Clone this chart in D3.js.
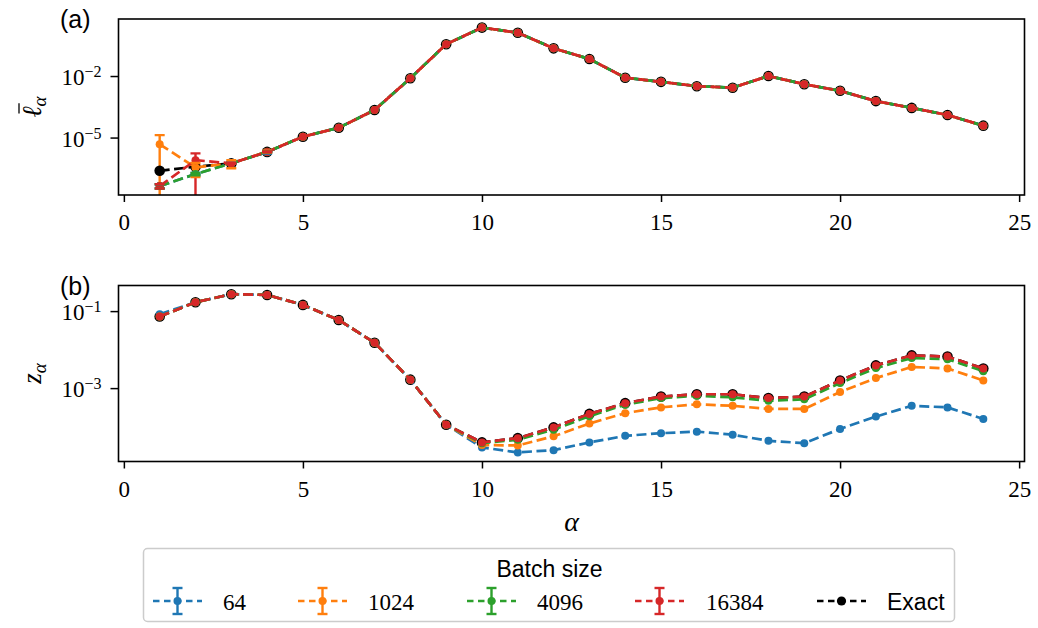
<!DOCTYPE html>
<html><head><meta charset="utf-8">
<script src="https://cdn.jsdelivr.net/npm/d3@7"></script>
<style>body{margin:0;background:#fff}</style>
</head><body>
<svg id="c" width="1038" height="628" xmlns="http://www.w3.org/2000/svg"></svg>
<script>
// ---------- DATA ----------
const alphas = [1,2,3,4,5,6,7,8,9,10,11,12,13,14,15,16,17,18,19,20,21,22,23,24];
const batchSizes = ["64","1024","4096","16384"];
const seriesColors = ["#1f77b4","#ff7f0e","#2ca02c","#d62728"];

// panel (a): mean loss
const lossExact = [2.4e-7,3.8e-7,5.5e-7,2.0e-6,1.1e-5,3.0e-5,2.2e-4,7.8e-3,0.355,2.3,1.29,0.224,0.068,8.3e-3,5.2e-3,3.2e-3,2.7e-3,1.0e-2,4.0e-3,1.9e-3,6.0e-4,2.8e-4,1.26e-4,3.8e-5];
const loss64    = [4.3e-8,1.66e-7,5.6e-7,1.95e-6,1.1e-5,3.0e-5,2.2e-4,7.8e-3,0.355,2.3,1.29,0.224,0.068,8.3e-3,5.2e-3,3.2e-3,2.7e-3,1.0e-2,4.0e-3,1.9e-3,6.0e-4,2.8e-4,1.26e-4,3.8e-5];
const loss1024  = [4.7e-6,3.5e-7,5.5e-7,2.05e-6,1.1e-5,3.0e-5,2.2e-4,7.8e-3,0.355,2.3,1.29,0.224,0.068,8.3e-3,5.2e-3,3.2e-3,2.7e-3,1.0e-2,4.0e-3,1.9e-3,6.0e-4,2.8e-4,1.26e-4,3.8e-5];
const loss4096  = [4.3e-8,1.66e-7,5.5e-7,2.0e-6,1.1e-5,3.0e-5,2.2e-4,7.8e-3,0.355,2.3,1.29,0.224,0.068,8.3e-3,5.2e-3,3.2e-3,2.7e-3,1.0e-2,4.0e-3,1.9e-3,6.0e-4,2.8e-4,1.26e-4,3.8e-5];
const loss16384 = [4.3e-8,7.9e-7,5.5e-7,2.0e-6,1.1e-5,3.0e-5,2.2e-4,7.8e-3,0.355,2.3,1.29,0.224,0.068,8.3e-3,5.2e-3,3.2e-3,2.7e-3,1.0e-2,4.0e-3,1.9e-3,6.0e-4,2.8e-4,1.26e-4,3.8e-5];
// panel (a): standard errors (0 = not drawn)
const lossErr64    = [1e-8,2e-8,4e-8,3e-7,0,0,0,0,0,0,0,0,0,0,0,0,0,0,0,0,0,0,0,0];
const lossErr1024  = [8.5e-6,2.3e-7,2.3e-7,2.5e-7,0,0,0,0,0,0,0,0,0,0,0,0,0,0,0,0,0,0,0,0];
const lossErr4096  = [1e-8,2e-8,2e-8,1e-7,0,0,0,0,0,0,0,0,0,0,0,0,0,0,0,0,0,0,0,0];
const lossErr16384 = [1e-8,9e-7,3e-8,1e-7,0,0,0,0,0,0,0,0,0,0,0,0,0,0,0,0,0,0,0,0];

// panel (b): z
const zExact = [0.0724,0.170,0.275,0.263,0.145,0.0589,0.0151,1.66e-3,1.12e-4,3.89e-5,5.01e-5,9.55e-5,2.14e-4,4.07e-4,6.03e-4,6.92e-4,6.92e-4,5.50e-4,6.03e-4,1.58e-3,3.89e-3,7.08e-3,6.61e-3,3.24e-3];
const z64    = [0.0832,0.170,0.275,0.263,0.145,0.0589,0.0151,1.66e-3,1.12e-4,2.88e-5,2.14e-5,2.45e-5,3.89e-5,5.75e-5,6.76e-5,7.41e-5,6.17e-5,4.27e-5,3.72e-5,8.71e-5,1.82e-4,3.47e-4,3.16e-4,1.58e-4];
const z1024  = [0.0724,0.170,0.275,0.263,0.145,0.0589,0.0151,1.66e-3,1.12e-4,3.31e-5,3.24e-5,5.62e-5,1.20e-4,2.24e-4,3.16e-4,3.80e-4,3.47e-4,2.88e-4,2.88e-4,7.94e-4,1.82e-3,3.55e-3,3.24e-3,1.58e-3];
const z4096  = [0.0724,0.170,0.275,0.263,0.145,0.0589,0.0151,1.66e-3,1.12e-4,3.72e-5,4.57e-5,8.32e-5,1.86e-4,3.72e-4,5.50e-4,6.31e-4,5.75e-4,4.68e-4,5.13e-4,1.35e-3,3.31e-3,6.03e-3,5.62e-3,2.75e-3];
const z16384 = [0.0724,0.170,0.275,0.263,0.145,0.0589,0.0151,1.66e-3,1.12e-4,3.89e-5,5.01e-5,9.55e-5,2.14e-4,4.07e-4,6.03e-4,6.92e-4,6.92e-4,5.50e-4,6.03e-4,1.58e-3,3.89e-3,7.08e-3,6.61e-3,3.24e-3];

const xTicks = [0,5,10,15,20,25];
const yTicksA = [1e-5,1e-2];
const yTicksB = [1e-3,1e-1];

// ---------- LAYOUT ----------
const svg = d3.select("#c");
const L = 118.5, R = 1024.5;
const serif = "'Liberation Serif', 'DejaVu Serif', serif";
const sans = "'Liberation Sans', 'DejaVu Sans', sans-serif";
const x = d3.scaleLinear().domain([-0.15, 25.15]).range([L, R]);
const DASH = "10,4.5";
const LW = 2.7;

function drawPanel(top, bottom, yDomain, yTicks, exact, series, errs, tag, ylabel, clipId) {
  const y = d3.scaleLog().domain(yDomain).range([bottom, top]);
  const g = svg.append("g");
  g.append("clipPath").attr("id", clipId).append("rect")
    .attr("x", L).attr("y", top).attr("width", R - L).attr("height", bottom - top);
  const plot = g.append("g").attr("clip-path", `url(#${clipId})`);
  const line = d3.line().x((d, i) => x(alphas[i])).y(d => y(d));

  // error bar stems (below everything)
  series.forEach((s, k) => {
    if (!errs) return;
    const e = errs[k];
    s.forEach((v, i) => {
      if (!e[i]) return;
      const lo = v - e[i], hi = v + e[i];
      plot.append("line").attr("x1", x(alphas[i])).attr("x2", x(alphas[i]))
        .attr("y1", lo > 0 ? y(lo) : bottom + 20).attr("y2", y(hi))
        .attr("stroke", seriesColors[k]).attr("stroke-width", 2.4);
    });
  });
  // exact
  plot.append("path").datum(exact).attr("d", line).attr("fill", "none")
    .attr("stroke", "#000").attr("stroke-width", LW).attr("stroke-dasharray", DASH);
  plot.selectAll(null).data(exact).enter().append("circle")
    .attr("cx", (d, i) => x(alphas[i])).attr("cy", d => y(d)).attr("r", 5.3).attr("fill", "#000");
  // batch series
  series.forEach((s, k) => {
    plot.append("path").datum(s).attr("d", line).attr("fill", "none")
      .attr("stroke", seriesColors[k]).attr("stroke-width", LW).attr("stroke-dasharray", DASH);
    plot.selectAll(null).data(s).enter().append("circle")
      .attr("cx", (d, i) => x(alphas[i])).attr("cy", d => y(d)).attr("r", 4.0).attr("fill", seriesColors[k]);
  });
  // caps
  series.forEach((s, k) => {
    if (!errs) return;
    const e = errs[k];
    s.forEach((v, i) => {
      if (!e[i]) return;
      const lo = v - e[i], hi = v + e[i];
      [lo, hi].forEach(b => {
        if (b <= 0) return;
        plot.append("line").attr("x1", x(alphas[i]) - 5).attr("x2", x(alphas[i]) + 5)
          .attr("y1", y(b)).attr("y2", y(b)).attr("stroke", seriesColors[k]).attr("stroke-width", 2.4);
      });
    });
  });

  // frame
  g.append("rect").attr("x", L).attr("y", top).attr("width", R - L).attr("height", bottom - top)
    .attr("fill", "none").attr("stroke", "#000").attr("stroke-width", 1.6);

  // x axis
  const xa = g.append("g").attr("transform", `translate(0,${bottom})`)
    .call(d3.axisBottom(x).tickValues(xTicks).tickSize(7).tickPadding(12).tickFormat(d3.format("d")));
  xa.attr("font-family", null).attr("font-size", null);
  xa.select(".domain").remove();
  xa.selectAll(".tick line").attr("stroke-width", 1.5);
  xa.selectAll(".tick text").style("font-family", serif).style("font-size", "23px").attr("fill", "#000");

  // y axis
  const ya = g.append("g").attr("transform", `translate(${L},0)`)
    .call(d3.axisLeft(y).tickValues(yTicks).tickSize(8).tickPadding(9));
  ya.attr("font-family", null).attr("font-size", null);
  ya.select(".domain").remove();
  ya.selectAll(".tick line").attr("stroke-width", 1.5);
  ya.selectAll(".tick text").each(function(d) {
    const ex = Math.round(Math.log10(d));
    const t = d3.select(this).text(null).style("font-family", serif).style("font-size", "23px")
      .attr("fill", "#000").attr("dy", "0.38em");
    t.append("tspan").text("10");
    t.append("tspan").attr("dy", -8).style("font-size", "16px").text("\u2212" + Math.abs(ex));
  });

  // panel tag
  g.append("text").attr("x", 60).attr("y", top + 9).style("font-family", sans).style("font-size", "25px")
    .attr("fill", "#000").text(tag);

  // y label
  const lg = g.append("g").attr("transform", `translate(41,${(top + bottom) / 2}) rotate(-90)`);
  const lt = lg.append("text").attr("text-anchor", "middle").style("font-family", serif)
    .style("font-style", "italic").style("font-size", "27px").attr("fill", "#000");
  lt.append("tspan").text(ylabel);
  lt.append("tspan").attr("dy", 5).style("font-size", "19px").text("\u03b1");
  return {lg, lt};
}

const pa = drawPanel(19, 195, [Math.pow(10, -7.8), Math.pow(10, 0.78)], yTicksA, lossExact,
  [loss64, loss1024, loss4096, loss16384], [lossErr64, lossErr1024, lossErr4096, lossErr16384],
  "(a)", "\u2113", "clipA");
// bar over ell
{
  const ext = pa.lt.node().getExtentOfChar(0);
  pa.lg.append("line").attr("x1", ext.x + 4).attr("x2", ext.x + ext.width + 3)
    .attr("y1", -22).attr("y2", -22).attr("stroke", "#000").attr("stroke-width", 1.3);
}
drawPanel(285.5, 461.5, [Math.pow(10, -4.906), Math.pow(10, -0.335)], yTicksB, zExact,
  [z64, z1024, z4096, z16384], null, "(b)", "z", "clipB");

// x label
svg.append("text").attr("x", (L + R) / 2).attr("y", 531).attr("text-anchor", "middle")
  .style("font-family", serif).style("font-style", "italic").style("font-size", "28px").attr("fill", "#000").text("\u03b1");

// ---------- LEGEND ----------
const leg = svg.append("g");
leg.append("rect").attr("x", 143.5).attr("y", 548.5).attr("width", 811).attr("height", 73).attr("rx", 4)
  .attr("fill", "#fff").attr("stroke", "#cccccc").attr("stroke-width", 1.5);
leg.append("text").attr("x", 549.5).attr("y", 577).attr("text-anchor", "middle").style("font-family", sans)
  .style("font-size", "23px").attr("fill", "#000").text("Batch size");
const handleX = [153, 298, 467, 635, 817];
const labelX = [223, 368, 537, 706, 887];
const legLabels = batchSizes.concat(["Exact"]);
const legColors = seriesColors.concat(["#000"]);
const rowY = 601;
legLabels.forEach((lab, i) => {
  const hx = handleX[i], c = legColors[i], mid = hx + 24.5;
  leg.append("line").attr("x1", hx).attr("x2", hx + 49).attr("y1", rowY).attr("y2", rowY)
    .attr("stroke", c).attr("stroke-width", LW).attr("stroke-dasharray", "6.5,4.5");
  if (i < 4) {
    leg.append("line").attr("x1", mid).attr("x2", mid).attr("y1", rowY - 13).attr("y2", rowY + 13)
      .attr("stroke", c).attr("stroke-width", 2.4);
    [rowY - 13, rowY + 13].forEach(yy => leg.append("line").attr("x1", mid - 5).attr("x2", mid + 5)
      .attr("y1", yy).attr("y2", yy).attr("stroke", c).attr("stroke-width", 2.4));
  }
  leg.append("circle").attr("cx", mid).attr("cy", rowY).attr("r", i < 4 ? 4.0 : 4.6).attr("fill", c);
  leg.append("text").attr("x", labelX[i]).attr("y", rowY + 9).style("font-family", i < 4 ? serif : sans)
    .style("font-size", "23px").attr("fill", "#000").text(lab);
});
</script>
</body></html>
